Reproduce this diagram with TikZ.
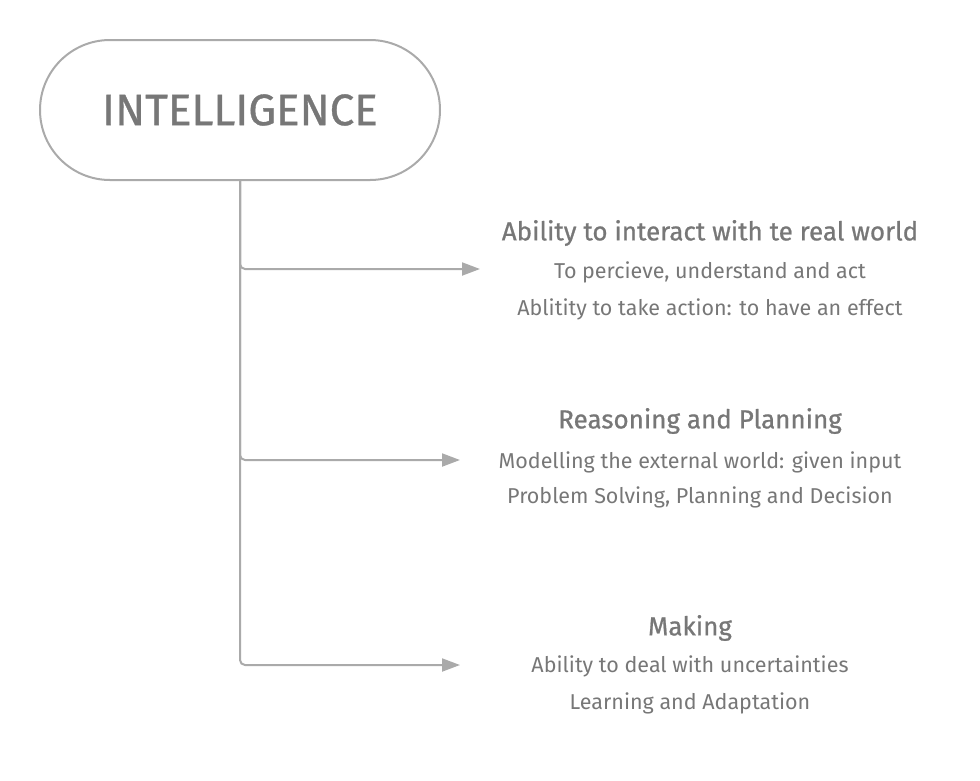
\documentclass[tikz,border=0pt]{standalone}
\usepackage{fontspec}
\setmainfont{Fira Sans}
\newfontfamily\headfont[FakeBold=0.8]{Fira Sans}
\usetikzlibrary{positioning, arrows.meta}

\definecolor{linegray}{HTML}{AAAAAA}
\definecolor{textgray}{HTML}{777777}

\tikzset{
  pill/.style={draw=linegray, line width=2pt, rounded corners=70pt,
               minimum width=400pt, minimum height=140pt, inner sep=0pt,
               text=textgray, font=\headfont\fontsize{44}{48}\selectfont},
  branch/.style={draw=linegray, line width=2pt, rounded corners=5pt,
                 -{Triangle[length=18pt, width=13pt]}},
  headline/.style={text=textgray, font=\headfont\fontsize{26}{30}\selectfont,
                   inner sep=0pt},
  subline/.style={text=textgray, font=\fontsize{21.5}{25}\selectfont,
                  inner sep=0pt}
}

\begin{document}
\begin{tikzpicture}[x=1pt, y=-1pt, node distance=17pt]
  \useasboundingbox (0,0) rectangle (980,780);

  % bulle du haut
  \node[pill] (intel) at (240,110) {INTELLIGENCE};

  % extremites des fleches
  \coordinate (tipA) at (480,269);
  \coordinate (tipB) at (460,460);
  \coordinate (tipC) at (460,665);

  \draw[branch] (intel.south) |- (tipA);
  \draw[branch] (intel.south) |- (tipB);
  \draw[branch] (intel.south) |- (tipC);

  % premier groupe
  \node[headline] (real) at (710,233) {Ability to interact with te real world};
  \node[subline, below=of real.center, anchor=center, yshift=-22pt] (perceive) {To percieve, understand and act};
  \node[subline, below=of perceive.center, anchor=center, yshift=-20pt] (action) {Ablitity to take action: to have an effect};

  % deuxieme groupe
  \node[headline] (reason) at (700,421) {Reasoning and Planning};
  \node[subline, below=of reason.center, anchor=center, yshift=-24pt] (model) {Modelling the external world: given input};
  \node[subline, below=of model.center, anchor=center, yshift=-18pt] (solve) {Problem Solving, Planning and Decision};

  % troisieme groupe
  \node[headline] (making) at (690,628) {Making};
  \node[subline, below=of making.center, anchor=center, yshift=-21pt] (uncert) {Ability to deal with uncertainties};
  \node[subline, below=of uncert.center, anchor=center, yshift=-20pt] (learn) {Learning and Adaptation};
\end{tikzpicture}
\end{document}
